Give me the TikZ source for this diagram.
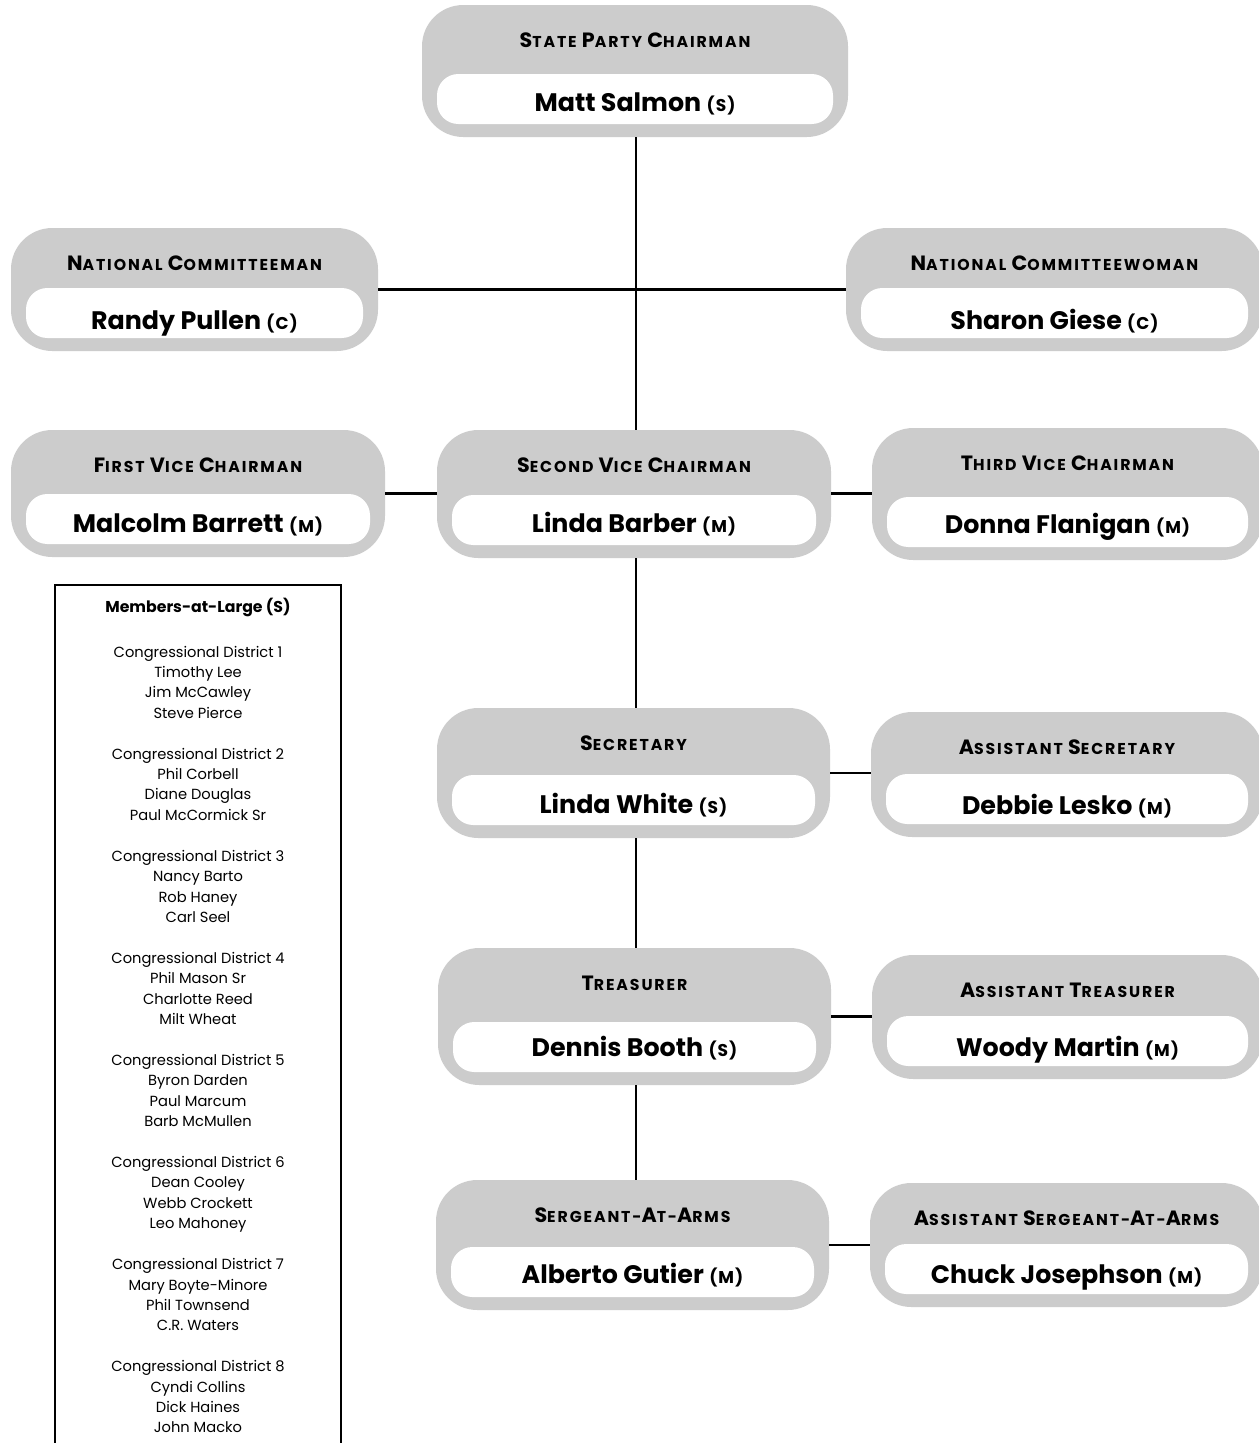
\documentclass[tikz,border=0pt]{standalone}
\usepackage{fontspec}
\setmainfont{Poppins}
\newfontfamily\titlefont{Poppins}[LetterSpace=12]
\newfontfamily\affilfont{Poppins}[LetterSpace=6]
\usetikzlibrary{calc}
\definecolor{boxgray}{RGB}{204,204,204}
\newcommand{\bigc}[1]{{\fontsize{15.5}{16}\selectfont #1}}
\newcommand{\affil}[1]{{\affilfont\fontsize{12.8}{13}\selectfont #1}}
\tikzset{
  outerbox/.style={draw=none, fill=boxgray, rounded corners=31pt, inner sep=0pt},
  innerbox/.style={draw=none, fill=white, rounded corners=16pt, inner sep=0pt},
  titletext/.style={anchor=base, inner sep=0pt, font=\titlefont\fontsize{11.8}{13}\selectfont\bfseries},
  nametext/.style={anchor=base, inner sep=0pt, font=\fontsize{19}{20}\selectfont\bfseries},
  memhead/.style={anchor=base, inner sep=0pt, font=\fontsize{11.8}{12}\selectfont\bfseries},
  memtext/.style={anchor=base, inner sep=0pt, font=\fontsize{11}{12}\selectfont},
  link/.style={line width=2.2pt},
  frameline/.style={line width=2.2pt}
}
% #1 name, #2 x1, #3 y1, #4 x2, #5 y2, #6 title, #7 person, #8 party, #9 name shift
\newcommand{\office}[9]{%
  \node[outerbox, minimum width={(#4-#2)*0.75pt}, minimum height={(#5-#3)*0.75pt}] (#1) at ({(#2+#4)/2},{(#3+#5)/2}) {};
  \node[innerbox, minimum width={(#4-#2-30)*0.75pt}, minimum height=37.5pt] (#1-w) at ({(#2+#4)/2},{#5-38}) {};
  \node[titletext] (#1-t) at ({(#2+#4)/2},{#3+42.5}) {#6};
  \node[nametext] (#1-n) at ({(#2+#4)/2},{#5-26+#9}) {#7 \affil{#8}};
}
\begin{document}
\begin{tikzpicture}[x=0.75pt, y=-0.75pt]
\useasboundingbox (0,0) rectangle (1259,1443);
\fill[white] (0,0) rectangle (1259,1443);
\coordinate (spine) at (636,0);

\office{chair}{422}{5}{848}{137}{\bigc{S}TATE \bigc{P}ARTY \bigc{C}HAIRMAN}{Matt Salmon}{(S)}{0}
\office{ncm}{11}{228}{378}{351}{\bigc{N}ATIONAL \bigc{C}OMMITTEEMAN}{Randy Pullen}{(C)}{4}
\office{ncw}{846}{228}{1263}{351}{\bigc{N}ATIONAL \bigc{C}OMMITTEEWOMAN}{Sharon Giese}{(C)}{4}
\office{fvc}{11}{430}{385}{557}{\bigc{F}IRST \bigc{V}ICE \bigc{C}HAIRMAN}{Malcolm Barrett}{(M)}{1}
\office{svc}{437}{430}{831}{558}{\bigc{S}ECOND \bigc{V}ICE \bigc{C}HAIRMAN}{Linda Barber}{(M)}{0}
\office{tvc}{872}{428}{1263}{560}{\bigc{T}HIRD \bigc{V}ICE \bigc{C}HAIRMAN}{Donna Flanigan}{(M)}{-1}
\office{sec}{437}{708}{830}{838}{\bigc{S}ECRETARY}{Linda White}{(S)}{1}
\office{asec}{871}{712}{1263}{837}{\bigc{A}SSISTANT \bigc{S}ECRETARY}{Debbie Lesko}{(M)}{3}
\office{tre}{438}{948}{831}{1085}{\bigc{T}REASURER}{Dennis Booth}{(S)}{-3}
\office{atre}{872}{955}{1263}{1079}{\bigc{A}SSISTANT \bigc{T}REASURER}{Woody Martin}{(M)}{3}
\office{sgt}{436}{1180}{829}{1310}{\bigc{S}ERGEANT-\bigc{A}T-\bigc{A}RMS}{Alberto Gutier}{(M)}{-1}
\office{asgt}{870}{1183}{1263}{1307}{\bigc{A}SSISTANT \bigc{S}ERGEANT-\bigc{A}T-\bigc{A}RMS}{Chuck Josephson}{(M)}{2}

% connectors
\draw[link] (chair.south -| spine) -- (svc.north -| spine);
\draw[link] (ncm.east) -- (ncm.east -| ncw.west);
\draw[link] (fvc.east) -- (fvc.east -| svc.west);
\draw[link] (fvc.east -| svc.east) -- (fvc.east -| tvc.west);
\draw[link] (svc.south -| spine) -- (sec.north -| spine);
\draw[link] (sec.south -| spine) -- (tre.north -| spine);
\draw[link] (tre.south -| spine) -- (sgt.north -| spine);
\draw[link] (sec.east) -- (sec.east -| asec.west);
\draw[link] (tre.east) -- (tre.east -| atre.west);
\draw[link] (sgt.east) -- (sgt.east -| asgt.west);

% members at large
\coordinate (mbl) at (55,1450);
\coordinate (mtl) at (55,585);
\coordinate (mtr) at (341,585);
\coordinate (mbr) at (341,1450);
\draw[frameline] (mbl) -- (mtl) -- (mtr) -- (mbr);
\node[memhead] (mhead) at (198,612) {Members-at-Large (S)};
\foreach \g/\a/\b/\c [count=\i from 0] in {
  1/Timothy Lee/Jim McCawley/Steve Pierce,
  2/Phil Corbell/Diane Douglas/Paul McCormick Sr,
  3/Nancy Barto/Rob Haney/Carl Seel,
  4/Phil Mason Sr/Charlotte Reed/Milt Wheat,
  5/Byron Darden/Paul Marcum/Barb McMullen,
  6/Dean Cooley/Webb Crockett/Leo Mahoney,
  7/Mary Boyte-Minore/Phil Townsend/C.R. Waters,
  8/Cyndi Collins/Dick Haines/John Macko}{
  \node[memtext] (cd\g) at (198,{657+102.1*\i}) {Congressional District \g};
  \node[memtext] (cd\g-a) at (198,{657+102.1*\i+20.4}) {\a};
  \node[memtext] (cd\g-b) at (198,{657+102.1*\i+40.8}) {\b};
  \node[memtext] (cd\g-c) at (198,{657+102.1*\i+61.2}) {\c};
}
\end{tikzpicture}
\end{document}
